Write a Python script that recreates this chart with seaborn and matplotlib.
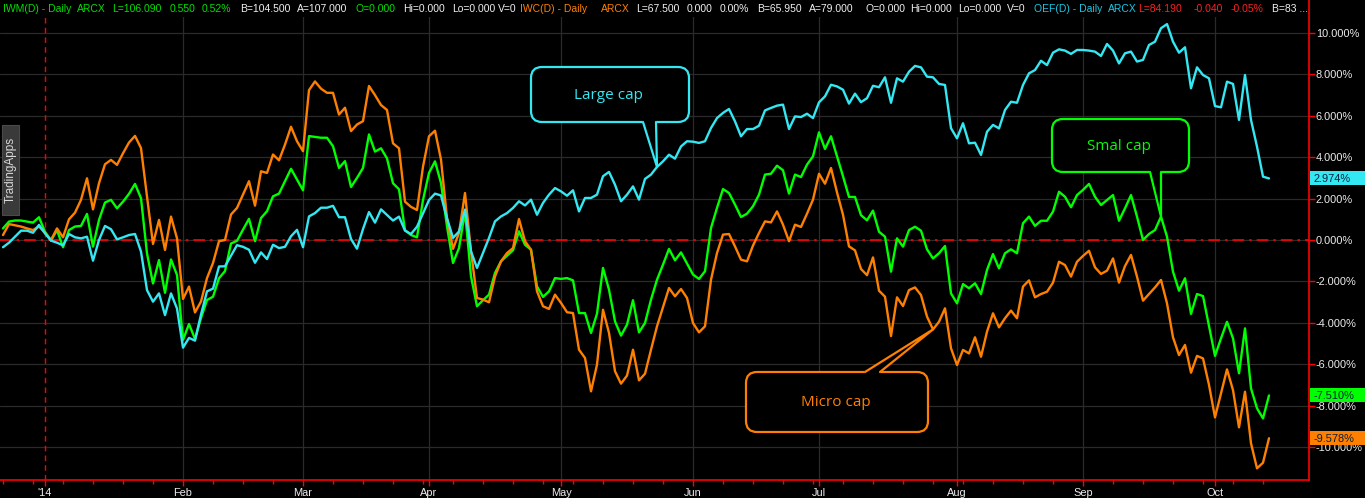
import numpy as np
import pandas as pd
import seaborn as sns
import matplotlib
matplotlib.use("Agg")
import matplotlib.pyplot as plt
from matplotlib.patches import FancyBboxPatch, Rectangle, Polygon

# trading days (weekdays) shown on the chart
dates = pd.bdate_range("2013-12-23", "2014-10-14")

# % change since start of 2014, one value per weekday
iwm = [0.56, 0.89, 0.94, 0.94, 0.89, 0.84, 1.1, 0.4, -0.03, 0.48,
       -0.35, 0.48, 0.65, 0.68, 1.26, -0.32, 0.97, 1.81, 1.94, 1.53,
       1.85, 2.23, 2.71, 2.02, -0.65, -2.1, -0.97, -2.55, -0.94, -1.69,
       -4.83, -4.06, -4.78, -3.77, -2.9, -2.74, -1.85, -1.5, -0.17, -0.04,
       0.5, 1.02, -0.06, 1.06, 1.39, 2.11, 2.24, 2.84, 3.44, 2.92,
       2.4, 5.02, 4.98, 4.94, 4.94, 4.53, 3.48, 3.81, 2.56, 3.0,
       3.48, 5.1, 4.27, 4.43, 3.94, 2.74, 2.45, 0.48, 0.24, 0.13,
       1.93, 3.24, 3.8, 2.75, 0.66, -1.11, -0.39, 1.38, -1.76, -3.2,
       -2.91, -2.64, -1.59, -1.03, -0.76, -0.5, 0.42, -0.23, -0.47, -2.24,
       -2.75, -2.48, -1.84, -1.88, -1.84, -1.95, -3.53, -3.53, -4.49, -3.56,
       -1.35, -2.4, -3.93, -4.62, -4.09, -2.91, -4.46, -4.01, -2.88, -1.92,
       -1.19, -0.43, -0.98, -0.6, -1.14, -1.67, -1.88, -1.51, 0.58, 1.55,
       2.46, 2.27, 1.71, 1.11, 1.27, 1.63, 2.19, 3.16, 3.2, 3.59,
       3.37, 2.24, 3.16, 3.04, 3.64, 4.04, 5.2, 4.4, 5.01, 4.04,
       3.08, 2.08, 2.08, 1.2, 0.95, 1.42, 0.4, 0.16, -1.53, 0.08,
       -0.32, 0.48, 0.64, 0.45, -0.45, -0.89, -0.64, -0.29, -2.58, -3.06,
       -2.13, -2.33, -2.09, -2.61, -1.45, -0.68, -1.37, -0.64, -0.45, -0.64,
       0.81, 1.13, 0.68, 0.93, 0.93, 1.37, 2.33, 2.09, 1.58, 2.17,
       2.42, 2.71, 2.09, 1.69, 1.93, 2.17, 0.93, 1.53, 2.17, 1.13,
       0.0, 0.29, 0.48, 1.13, 0.16, -1.53, -2.45, -1.85, -3.57, -2.61,
       -2.71, -4.15, -5.6, -4.75, -3.95, -4.75, -6.44, -4.27, -7.17, -8.13,
       -8.62, -7.51]

iwc = [0.24, 0.77, 0.71, 0.65, 0.56, 0.48, 0.65, 0.35, 0.0, 0.56,
       0.13, 1.0, 1.32, 1.94, 2.98, 1.48, 2.74, 3.66, 3.87, 3.63,
       4.19, 4.71, 5.03, 4.44, 2.1, -0.19, 0.97, -0.48, 1.13, 0.08,
       -2.85, -2.25, -3.5, -2.97, -1.84, -1.11, -0.06, 0.0, 1.23, 1.55,
       2.19, 2.84, 1.66, 3.32, 3.24, 4.13, 3.85, 4.61, 5.47, 4.77,
       4.29, 7.24, 7.66, 7.31, 7.11, 7.11, 6.06, 6.39, 5.26, 5.58,
       5.74, 7.44, 7.0, 6.52, 6.28, 4.67, 4.43, 1.85, 1.6, 1.45,
       3.54, 5.01, 5.28, 3.88, 1.06, -0.43, 0.34, 2.27, -0.55, -2.8,
       -2.88, -3.01, -1.76, -1.03, -0.63, -0.39, 1.01, -0.06, -0.47, -2.48,
       -3.2, -3.33, -2.64, -3.04, -3.49, -3.53, -5.3, -5.7, -7.31, -6.02,
       -3.37, -4.49, -6.34, -6.94, -6.55, -5.3, -6.78, -6.46, -5.3, -4.17,
       -3.24, -2.32, -2.72, -2.37, -2.8, -4.01, -4.46, -4.17, -1.92, -0.63,
       0.26, 0.29, -0.31, -0.95, -1.03, -0.27, 0.34, 0.9, 0.85, 1.38,
       0.74, -0.06, 0.74, 0.63, 1.27, 1.95, 3.2, 2.72, 3.48, 2.3,
       1.22, -0.31, -0.5, -1.4, -1.7, -0.84, -2.45, -2.74, -4.64, -2.77,
       -3.19, -2.42, -2.29, -2.66, -3.7, -4.32, -3.95, -3.3, -5.23, -6.04,
       -5.31, -5.48, -4.7, -5.64, -4.43, -3.54, -4.22, -3.78, -3.41, -3.78,
       -2.25, -1.95, -2.77, -2.61, -2.5, -2.06, -1.05, -1.21, -1.77, -1.05,
       -0.77, -0.52, -1.32, -1.64, -1.48, -0.89, -2.06, -1.26, -0.72, -1.77,
       -2.93, -2.61, -2.29, -1.93, -3.06, -4.7, -5.56, -5.07, -6.41, -5.6,
       -5.72, -7.0, -8.57, -7.41, -6.25, -7.25, -9.05, -7.33, -9.82, -11.03,
       -10.76, -9.578]

oef = [-0.35, -0.13, 0.16, 0.45, 0.45, 0.35, 0.73, 0.32, -0.03, -0.13,
       -0.26, 0.29, 0.13, 0.08, 0.16, -1.0, 0.0, 0.68, 0.52, 0.03,
       0.13, 0.24, 0.29, -0.56, -2.42, -2.98, -2.58, -3.63, -2.58, -3.31,
       -5.2, -4.73, -4.86, -3.6, -2.48, -2.35, -1.28, -1.27, -0.76, -0.25,
       -0.33, -0.47, -1.1, -0.6, -0.92, -0.23, -0.39, -0.33, 0.18, 0.49,
       -0.35, 1.14, 1.3, 1.56, 1.56, 1.65, 1.1, 1.1, 0.05, -0.42,
       0.53, 1.35, 0.84, 1.48, 1.21, 0.94, 1.13, 0.45, 0.29, 0.64,
       1.29, 1.93, 2.24, 2.15, 1.05, 0.1, 0.41, 1.47, -0.55, -1.35,
       -0.63, 0.1, 0.9, 1.14, 1.3, 1.55, 1.87, 1.67, 1.95, 1.22,
       1.79, 2.19, 2.51, 2.35, 2.14, 2.4, 1.38, 2.03, 2.03, 2.19,
       3.08, 3.29, 2.67, 1.87, 2.19, 2.59, 1.95, 2.95, 3.16, 3.53,
       3.8, 4.12, 3.93, 4.52, 4.77, 4.75, 4.69, 4.77, 5.41, 5.89,
       6.14, 6.33, 5.73, 5.01, 5.36, 5.36, 5.52, 6.26, 6.38, 6.49,
       6.54, 5.36, 5.97, 5.94, 6.1, 5.89, 6.65, 6.94, 7.5, 7.42,
       7.26, 6.59, 7.07, 6.66, 6.85, 7.45, 7.38, 7.86, 6.63, 7.81,
       7.65, 8.13, 8.41, 8.34, 7.89, 7.86, 7.54, 7.49, 5.4, 4.91,
       5.64, 4.67, 4.7, 4.11, 5.23, 5.56, 5.39, 6.28, 6.68, 6.63,
       7.49, 8.05, 8.21, 8.66, 8.45, 9.05, 9.21, 9.15, 8.99, 9.18,
       9.18, 9.15, 9.1, 8.89, 9.47, 9.15, 8.53, 9.02, 9.1, 8.62,
       8.7, 9.42, 9.58, 10.23, 10.43, 9.58, 9.05, 9.31, 7.33, 8.34,
       7.97, 7.81, 6.47, 6.41, 7.65, 7.54, 5.8, 7.97, 5.8, 4.51,
       3.06, 2.974]

symbols = ["IWM", "IWC", "OEF"]
colors = {"IWM": "#00ff00", "IWC": "#ff8000", "OEF": "#33e8f2"}
month_labels = ["'14", "Feb", "Mar", "Apr", "May", "Jun", "Jul", "Aug", "Sep", "Oct"]
y_ticks = np.arange(-10, 11, 2)

df = pd.DataFrame({"day": np.arange(len(dates)), "IWM": iwm, "IWC": iwc, "OEF": oef})
long_df = df.melt(id_vars="day", var_name="symbol", value_name="pct")

sns.set_theme(style="dark", rc={"axes.facecolor": "black", "figure.facecolor": "black"})
plt.rcParams["font.family"] = ["Liberation Sans", "DejaVu Sans"]

W, H = 1365, 498
fig = plt.figure(figsize=(W / 100, H / 100), dpi=100, facecolor="black")
ax = fig.add_axes([0, 18 / H, 1309 / W, 480 / H])
ax.set_facecolor("black")

month_idx = [int(np.argmax(dates >= pd.Timestamp(2014, m, 1))) for m in range(1, 11)]

# grid
for y in y_ticks:
    ax.axhline(y, color="#2a2a2a", lw=0.9, zorder=0)
for i in month_idx[1:]:
    ax.axvline(i, color="#2a2a2a", lw=0.9, zorder=0)
ax.axvline(month_idx[0], color="red", lw=1, ls=(0, (4, 3)), zorder=1)
ax.axhline(0, color="red", lw=1.2, ls=(0, (7, 3, 1.5, 3)), zorder=1)

sns.lineplot(data=long_df, x="day", y="pct", hue="symbol", hue_order=symbols,
             palette=colors, linewidth=1.7, legend=False, errorbar=None, ax=ax, zorder=3)

ax.set_xlim(-0.5, (1309 - 3) / 6)
ax.set_ylim(-240 / 20.7, 240 / 20.7)
ax.set_xlabel("")
ax.set_ylabel("")
ax.grid(False)

ax.yaxis.tick_right()
ax.set_yticks(y_ticks)
ax.set_yticklabels([f"{v:.3f}%" for v in y_ticks])
ax.set_xticks(month_idx)
ax.set_xticklabels(month_labels)
ax.set_xticks(np.arange(0, len(dates), 5), minor=True)
ax.tick_params(axis="y", which="both", right=True, left=False, color="red", labelcolor="#ececec",
               length=4, width=1, pad=1, labelsize=7.9)
ax.tick_params(axis="x", which="major", bottom=True, color="red", labelcolor="#ececec",
               length=4, width=1, pad=1.5, labelsize=7.9)
ax.tick_params(axis="x", which="minor", bottom=True, color="red", length=3, width=1)
for side in ["left", "top"]:
    ax.spines[side].set_visible(False)
for side in ["right", "bottom"]:
    ax.spines[side].set_color("red")
    ax.spines[side].set_linewidth(1.2)

# overlay in pixel coordinates (top-left origin)
ov = fig.add_axes([0, 0, 1, 1], zorder=5)
ov.set_xlim(0, W)
ov.set_ylim(H, 0)
ov.axis("off")
ov.patch.set_alpha(0)


def to_px(k, v):
    x, y = ax.transData.transform((k, v))
    return x, H - y


# header band
ov.add_patch(Rectangle((0, 0), 1308, 17, fc="black", ec="none", zorder=5))
green, orange, cyan, white, red = "#00e000", "#ff8000", "#19c8e6", "#f0f0f0", "#ff2020"
header = [(3, "IWM(D) - Daily", green), (77, "ARCX", green), (112, "L=106.090", green),
          (170, "0.550", green), (202, "0.52%", green), (240, "B=104.500", white),
          (297, "A=107.000", white), (356, "O=0.000", green), (403, "Hi=0.000", white),
          (452, "Lo=0.000", white), (498, "V=0", white), (520, "IWC(D) - Daily", orange),
          (601, "ARCX", orange), (636, "L=67.500", white), (687, "0.000", white),
          (720, "0.00%", white), (757, "B=65.950", white), (809, "A=79.000", white),
          (865, "O=0.000", white), (910, "Hi=0.000", white), (958, "Lo=0.000", white),
          (1007, "V=0", white), (1034, "OEF(D) - Daily", cyan), (1108, "ARCX", cyan),
          (1138, "L=84.190", red), (1194, "-0.040", red), (1231, "-0.05%", red),
          (1272, "B=83 ...", white)]
for x, s, c in header:
    ov.text(x, 8.5, s, color=c, fontsize=7.5, ha="left", va="center", zorder=6)

# TradingApps tab
ov.add_patch(Rectangle((2, 125), 17, 90, fc="#3a3a3a", ec="#4a4a4a", lw=0.8, zorder=6))
ov.text(10.5, 170, "TradingApps", rotation=90, color="#d8d8d8", fontsize=8.5,
        ha="center", va="center", zorder=7)


def callout(box, bases, tip, color, label, text_xy):
    x0, y0, x1, y1 = box
    ov.add_patch(FancyBboxPatch((x0, y0), x1 - x0, y1 - y0,
                                boxstyle="round,pad=0,rounding_size=11",
                                fc="black", ec=color, lw=1.6, zorder=6))
    (ax_, ay_), (bx_, by_) = bases
    ov.add_patch(Polygon([(ax_, ay_), tip, (bx_, by_)], closed=True, fc="black", ec="none", zorder=7))
    ov.plot([ax_ + 1, bx_ - 1], [ay_, by_], color="black", lw=2.6, zorder=7)
    ov.plot([ax_, tip[0], bx_], [ay_, tip[1], by_], color=color, lw=1.6, zorder=8)
    ov.text(*text_xy, label, color=color, fontsize=11, ha="center", va="center",
            family=["Open Sans", "DejaVu Sans"], zorder=9)


callout((531, 67, 689, 122), [(643, 122), (656, 122)], to_px(109, oef[109]),
        "#33e8f2", "Large cap", (608, 95))
callout((1052, 119, 1189, 172), [(1150, 172), (1161, 172)], to_px(193, iwm[193]),
        "#00ff00", "Smal cap", (1119, 146))
callout((746, 372, 928, 432), [(865, 372), (880, 372)], to_px(155, iwc[155]),
        "#ff8000", "Micro cap", (836, 402))

# last-value boxes on the price axis
for sym, vals in [("OEF", oef), ("IWM", iwm), ("IWC", iwc)]:
    _, py = to_px(0, vals[-1])
    ov.add_patch(Rectangle((1310, py - 7), 55, 14, fc=colors[sym], ec="none", zorder=6))
    ov.text(1314, py + 0.5, f"{vals[-1]:.3f}%", color="#0b1e3c", fontsize=7.9,
            ha="left", va="center", zorder=7)

fig.savefig("out.png", dpi=100, facecolor="black")
